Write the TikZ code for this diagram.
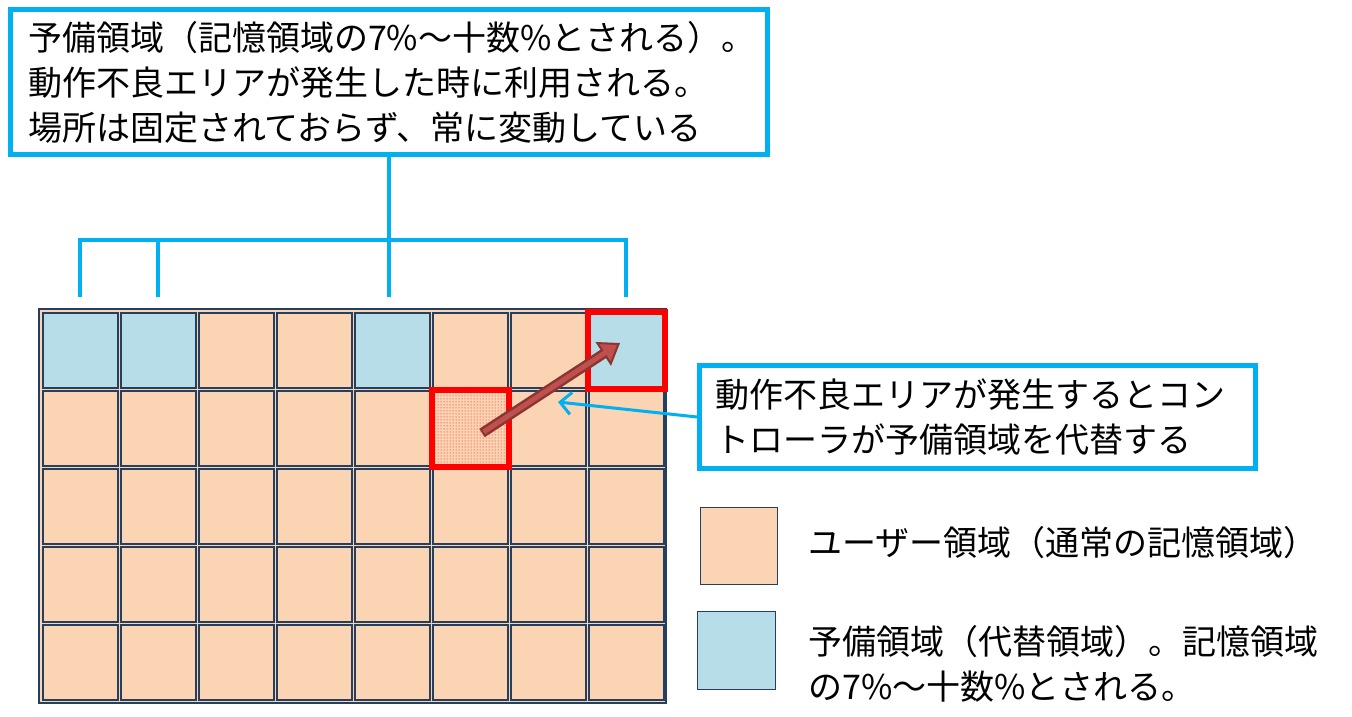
\documentclass[tikz,border=0pt]{standalone}
\usepackage{fontspec}
\newfontfamily\jpfont{Noto Sans CJK JP}
\usepackage{tikz}
\usetikzlibrary{arrows.meta, positioning, calc, patterns}
\definecolor{userpeach}{HTML}{FBD4B4}
\definecolor{sparecyan}{HTML}{B7DDE8}
\definecolor{gridnavy}{HTML}{243F60}
\definecolor{noteblue}{HTML}{00B0F0}
\definecolor{arrowdark}{HTML}{8B3533}
\definecolor{arrowred}{HTML}{C0504D}
\newcommand{\notefont}{\jpfont\fontsize{34}{45}\selectfont}

\begin{document}
\begin{tikzpicture}[
  x=1pt, y=-1pt,
  cell/.style={rectangle, draw=gridnavy, line width=2pt, fill=userpeach, minimum width=75pt, minimum height=75pt, inner sep=0pt},
  spare/.style={cell, fill=sparecyan},
  badbox/.style={rectangle, draw=red, line width=6pt, minimum width=77pt, minimum height=77pt, inner sep=0pt},
  note/.style={rectangle, draw=noteblue, line width=5pt, fill=white, align=left, font=\notefont, inner sep=0pt},
  legendtext/.style={anchor=west, align=left, font=\notefont, inner sep=0pt},
  bracket/.style={draw=noteblue, line width=4pt},
  pointer/.style={-{Straight Barb[length=11pt, width=22pt]}, draw=noteblue, line width=3pt},
  swap/.style={-{Triangle[length=20pt, width=28pt, line width=2pt, fill=arrowred]}, draw=arrowdark, line width=10pt}
]
  \useasboundingbox (0,0) rectangle (1352,717);

  % memory grid
  \node[rectangle, draw=gridnavy, line width=2.5pt, fill=userpeach, minimum width=627pt, minimum height=394pt, inner sep=0pt] (grid) at (352.5,506) {};
  \foreach \r in {1,...,5}
    \foreach \c in {1,...,8}{
      \pgfmathtruncatemacro{\isspare}{(\r==1)&&(\c==1||\c==2||\c==5||\c==8)}
      \ifnum\isspare=1 \def\kind{spare}\else\def\kind{cell}\fi
      \node[\kind] (c-\r-\c) at ({80+78*(\c-1)}, {350+78*(\r-1)}) {};
    }
  \fill[pattern=dots, pattern color=red] (c-2-6.south west) rectangle (c-2-6.north east);

  \node[badbox] (bad-old) at (c-2-6.center) {};
  \node[badbox] (bad-new) at (c-1-8.center) {};

  % replacement arrow
  \coordinate (from) at ($(c-2-6.center)+(12,5)$);
  \coordinate (to) at ($(c-1-8.center)+(-6,-7)$);
  \draw[swap] (from) -- (to);
  \draw[arrowred, line width=5pt, shorten >=16pt, shorten <=2pt] (from) -- (to);

  % notes
  \node[note, minimum width=757pt, minimum height=144pt, text width=722pt] (topnote) at (389,82)
    {予備領域（記憶領域の7\%～十数\%とされる）。\\動作不良エリアが発生した時に利用される。\\場所は固定されておらず、常に変動している};
  \node[note, minimum width=556pt, minimum height=103pt, text width=525pt] (sidenote) at (977.5,417)
    {動作不良エリアが発生するとコン\\トローラが予備領域を代替する};

  \coordinate (hit) at (558,402);
  \draw[pointer] (sidenote.west) -- (hit);

  % bracket to the spare cells
  \foreach \c in {1,2,5,8}
    \coordinate (t\c) at ($(c-1-\c.north)+(0,-15)$);
  \coordinate (hub) at (0,240);
  \draw[bracket] (topnote.south) -- (topnote.south |- t5);
  \draw[bracket] (t1) -- (t1 |- hub) -- (t8 |- hub) -- (t8);
  \draw[bracket] (t2) -- (t2 |- hub);

  % legend
  \node[cell, line width=1.5pt, minimum width=77pt, minimum height=77pt] (leguser) at (739,546) {};
  \node[spare, line width=1.5pt, minimum width=78pt, minimum height=78pt] (legspare) at (736.5,650.5) {};
  \node[legendtext] (usertext) at (808,543) {ユーザー領域（通常の記憶領域）};
  \node[legendtext] (sparetext) at (808,664) {予備領域（代替領域）。記憶領域\\の7\%～十数\%とされる。};
\end{tikzpicture}
\end{document}
